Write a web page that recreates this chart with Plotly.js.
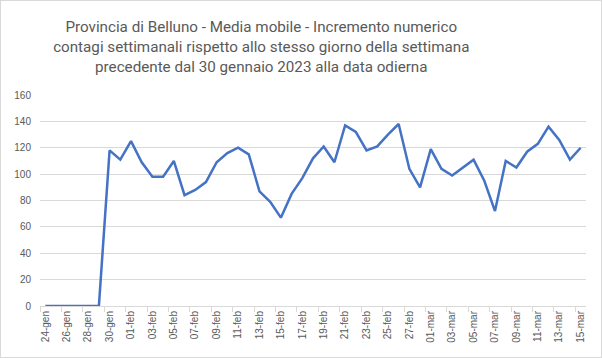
<!DOCTYPE html>
<html>
<head>
<meta charset="utf-8">
<script src="https://cdn.plot.ly/plotly-3.0.1.min.js"></script>
<style>
  html, body { margin: 0; padding: 0; background: #fff; }
  #wrap { position: relative; width: 602px; height: 358px; }
  #chart { width: 602px; height: 358px; }
  #frame { position: absolute; left: 0; top: 0; width: 602px; height: 358px; box-sizing: border-box; border: 1px solid #d9d9d9; pointer-events: none; }
</style>
</head>
<body>
<div id="wrap"><div id="chart"></div><div id="frame"></div></div>
<script>
const dates = [
  "24-gen","25-gen","26-gen","27-gen","28-gen","29-gen","30-gen","31-gen",
  "01-feb","02-feb","03-feb","04-feb","05-feb","06-feb","07-feb","08-feb","09-feb","10-feb",
  "11-feb","12-feb","13-feb","14-feb","15-feb","16-feb","17-feb","18-feb","19-feb","20-feb",
  "21-feb","22-feb","23-feb","24-feb","25-feb","26-feb","27-feb","28-feb",
  "01-mar","02-mar","03-mar","04-mar","05-mar","06-mar","07-mar","08-mar","09-mar","10-mar",
  "11-mar","12-mar","13-mar","14-mar","15-mar"
];
const values = [
  0, 0, 0, 0, 0, 0, 118, 111,
  125, 109, 98, 98, 110, 84, 88, 94, 109, 116,
  120, 115, 87, 79, 67, 85, 97, 112, 121, 109,
  137, 132, 118, 121, 130, 138, 104, 90,
  119, 104, 99, 105, 111, 95, 72, 110, 105, 117,
  123, 136, 126, 111, 120
];
const titleText = "Provincia di Belluno - Media mobile - Incremento numerico<br>contagi settimanali rispetto allo stesso giorno della settimana<br>precedente dal 30 gennaio 2023 alla data odierna";

const trace = {
  x: dates, y: values, type: "scatter", mode: "lines",
  line: { color: "#4472C4", width: 2.5 },
  hoverinfo: "skip"
};
const layout = {
  width: 602, height: 358,
  margin: { l: 40, r: 16, t: 95, b: 52 },
  paper_bgcolor: "#ffffff", plot_bgcolor: "#ffffff",
  showlegend: false,
  title: {
    text: titleText,
    font: { family: "Roboto, sans-serif", size: 15.2, color: "#595959" },
    xref: "container", x: 0.434, xanchor: "center",
    yref: "container", y: 0.91, yanchor: "top"
  },
  xaxis: {
    type: "category",
    tickmode: "linear", dtick: 2, tick0: 0,
    tickson: "boundaries",
    ticks: "outside", ticklen: 5, tickcolor: "#d9d9d9",
    tickangle: -90,
    tickfont: { family: "Liberation Sans, Arial, sans-serif", size: 10, color: "#595959" },
    showgrid: false,
    showline: true, linecolor: "#d9d9d9", linewidth: 1,
    range: [-0.5, 50.5],
    fixedrange: true
  },
  yaxis: {
    range: [0, 160], dtick: 20, tick0: 0,
    showgrid: true, gridcolor: "#d9d9d9", gridwidth: 1,
    zeroline: false, showline: false,
    ticks: "", ticklabelstandoff: 8,
    tickfont: { family: "Liberation Sans, Arial, sans-serif", size: 10, color: "#595959" },
    fixedrange: true
  }
};
Plotly.newPlot("chart", [trace], layout, { displayModeBar: false, staticPlot: true });
</script>
</body>
</html>
